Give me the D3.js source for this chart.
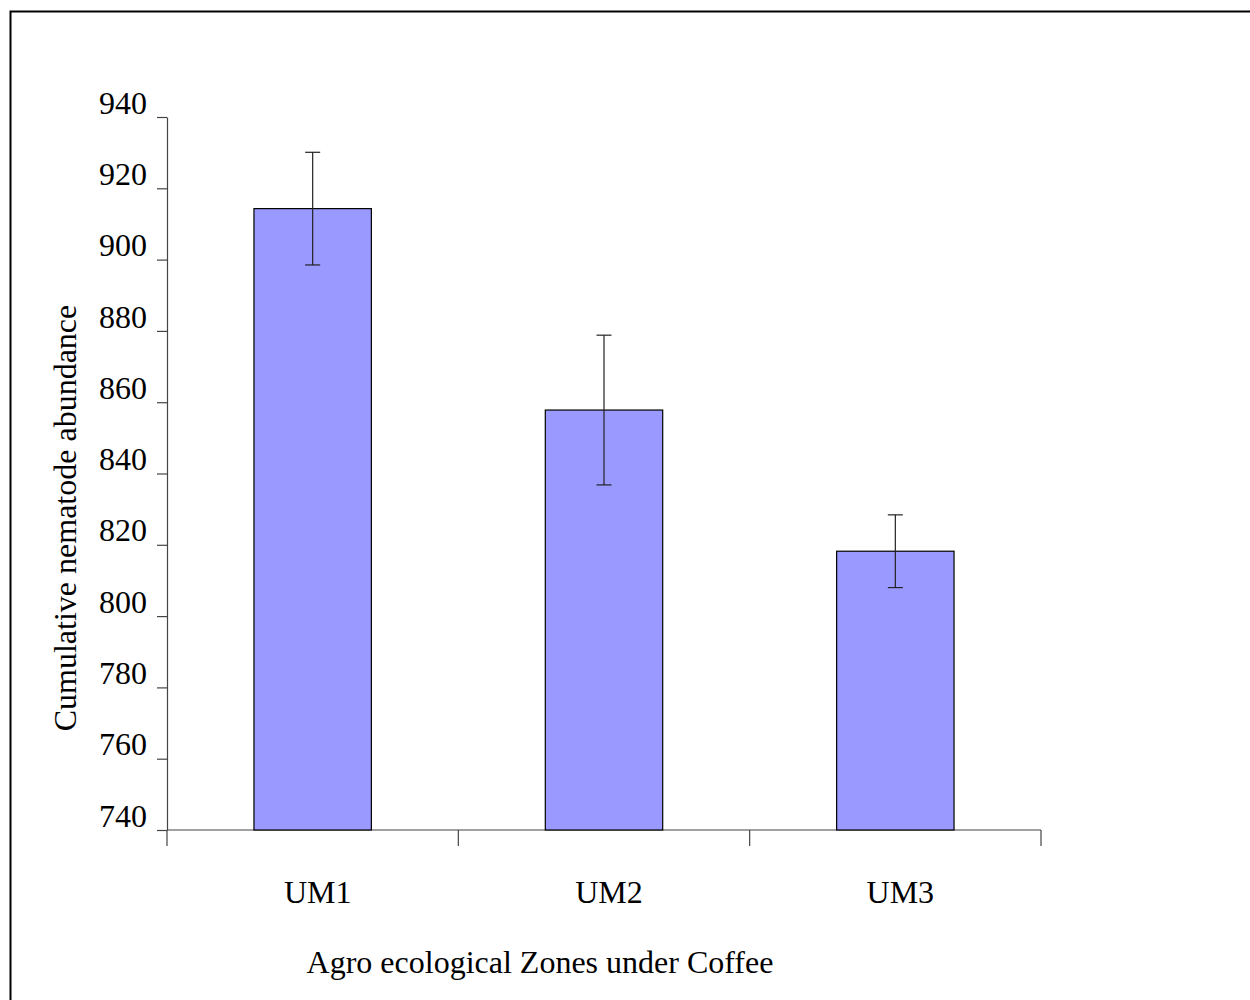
<!DOCTYPE html>
<html>

<head>
    <meta charset="utf-8">
    <style type="text/css">
        body {
            margin: 0;
            background: #fff;
        }

        svg text {
            font-family: "Liberation Serif", "Times New Roman", serif;
            font-size: 32px;
            fill: #000;
        }

        .bar {
            fill: #9999ff;
            stroke: #000;
            stroke-width: 1.2;
        }

        .axis path,
        .axis line {
            stroke: #444;
            stroke-width: 1.2;
        }

        .err {
            stroke: #222;
            stroke-width: 1.2;
        }
    </style>
    <title>Cumulative nematode abundance</title>
</head>

<body>
    <svg id="graph"></svg>

    <script src="https://cdn.jsdelivr.net/npm/d3@7"></script>
    <script>
        // Data
        var zones = ['UM1', 'UM2', 'UM3'];
        var abundance = [914.3, 857.8, 818.2];
        var errors = [15.8, 21, 10.2];
        var yTicks = [740, 760, 780, 800, 820, 840, 860, 880, 900, 920, 940];

        var data = zones.map(function (z, i) {
            return { zone: z, value: abundance[i], err: errors[i] };
        });

        var width = 1250, height = 1000;
        var plot = { left: 167, right: 1041, top: 117, bottom: 830 };

        var svg = d3.select('#graph')
            .attr('width', width)
            .attr('height', height);

        // Frame (top and left only, as in the original)
        svg.append('path')
            .attr('d', 'M10.5,' + height + 'V11.5H' + width)
            .attr('fill', 'none')
            .attr('stroke', '#000')
            .attr('stroke-width', 2);

        // Scales
        var x = d3.scaleBand()
            .domain(zones)
            .range([plot.left, plot.right]);

        var y = d3.scaleLinear()
            .domain([740, 940])
            .range([plot.bottom, plot.top]);

        var barWidth = x.bandwidth() * 0.403;

        // Y axis
        var yAxis = d3.axisLeft(y)
            .tickValues(yTicks)
            .tickSize(10)
            .tickSizeOuter(0)
            .tickPadding(10);

        var gy = svg.append('g')
            .attr('class', 'axis y')
            .attr('transform', translation(plot.left, 0))
            .call(yAxis);
        gy.selectAll('text')
            .attr('dy', '-0.12em')
            .style('font-size', '32px');

        // X axis: ticks at band boundaries
        var gx = svg.append('g')
            .attr('class', 'axis x')
            .attr('transform', translation(0, plot.bottom));
        gx.append('line')
            .attr('x1', plot.left).attr('x2', plot.right)
            .attr('y1', 0).attr('y2', 0);
        gx.selectAll('.tick')
            .data(zones.concat(['end']))
            .enter().append('line')
            .attr('class', 'tick')
            .attr('x1', d => d == 'end' ? plot.right : x(d))
            .attr('x2', d => d == 'end' ? plot.right : x(d))
            .attr('y1', 0)
            .attr('y2', 16);
        gx.selectAll('.label')
            .data(zones)
            .enter().append('text')
            .attr('class', 'label')
            .attr('x', d => x(d) + x.bandwidth() / 2 + 5)
            .attr('y', 73)
            .attr('text-anchor', 'middle')
            .text(d => d);

        // Bars
        svg.selectAll('.bar')
            .data(data)
            .enter().append('rect')
            .attr('class', 'bar')
            .attr('x', d => x(d.zone) + (x.bandwidth() - barWidth) / 2)
            .attr('y', d => y(d.value))
            .attr('width', barWidth)
            .attr('height', d => y(740) - y(d.value));

        // Error bars
        var errG = svg.selectAll('.errbar')
            .data(data)
            .enter().append('g')
            .attr('class', 'errbar')
            .attr('transform', d => translation(x(d.zone) + x.bandwidth() / 2, 0));
        errG.append('line')
            .attr('class', 'err')
            .attr('x1', 0).attr('x2', 0)
            .attr('y1', d => y(d.value + d.err))
            .attr('y2', d => y(d.value - d.err));
        errG.append('line')
            .attr('class', 'err')
            .attr('x1', -7.5).attr('x2', 7.5)
            .attr('y1', d => y(d.value + d.err))
            .attr('y2', d => y(d.value + d.err));
        errG.append('line')
            .attr('class', 'err')
            .attr('x1', -7.5).attr('x2', 7.5)
            .attr('y1', d => y(d.value - d.err))
            .attr('y2', d => y(d.value - d.err));

        // Axis titles
        svg.append('text')
            .attr('transform', translation(76, 518) + 'rotate(-90)')
            .attr('text-anchor', 'middle')
            .text('Cumulative nematode abundance');

        svg.append('text')
            .attr('x', 540)
            .attr('y', 973)
            .attr('text-anchor', 'middle')
            .text('Agro ecological Zones under Coffee');

        function translation(x, y) {
            return 'translate(' + x + ',' + y + ')';
        }
    </script>
</body>

</html>
